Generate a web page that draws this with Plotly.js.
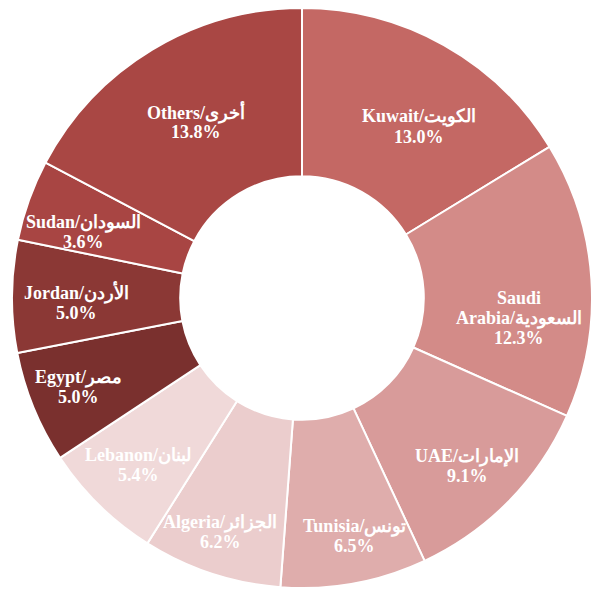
<!DOCTYPE html>
<html><head><meta charset="utf-8">
<script src="https://cdn.plot.ly/plotly-3.0.1.min.js"></script>
<style>html,body{margin:0;padding:0;background:#fff}</style>
</head><body><div id="chart" style="width:600px;height:592px"></div>
<script>
const labels = ["Kuwait/الكويت", "Saudi<br>Arabia/السعودية", "UAE/الإمارات", "Tunisia/تونس", "Algeria/الجزائر", "Lebanon/لبنان", "Egypt/مصر", "Jordan/الأردن", "Sudan/السودان", "Others/أخرى"];
const values = [13.0, 12.3, 9.1, 6.5, 6.2, 5.4, 5.0, 5.0, 3.6, 13.8];
const colors = ["#c46864", "#d38b88", "#d89b9a", "#dfadac", "#ebcdcd", "#f0d9d9", "#7a302e", "#8b3835", "#a84543", "#a94744"];

// label placement style (angle nudge in degrees, radius in px from centre)
const labelNudge = [5, 9, 1, -2, 1, 0, 0.5, -1.6, -3, 0];
const labelRadius = [207, 218, 236, 244, 248, 234, 241, 226, 228, 205];
const lineGap = 20;

const W = 600, H = 592, M = {l: 10, r: 6, t: 8, b: 4};
const pw = W - M.l - M.r, ph = H - M.t - M.b;
const cx = M.l + pw / 2, cy = M.t + ph / 2;
const total = values.reduce((a, b) => a + b, 0);
let cum = 0;
const annotations = [];
values.forEach((v, i) => {
  const mid = (cum + v / 2) / total * 360; cum += v;
  const a = (mid + labelNudge[i]) * Math.PI / 180;
  const px = cx + labelRadius[i] * Math.sin(a);
  const py = cy - labelRadius[i] * Math.cos(a);
  const lines = labels[i].split("<br>").concat([v.toFixed(1) + "%"]);
  lines.forEach((ln, k) => {
    annotations.push({
      xref: "paper", yref: "paper",
      x: (px - M.l) / pw, y: (H - M.b - py) / ph,
      xanchor: "center", yanchor: "middle", showarrow: false,
      yshift: ((lines.length - 1) / 2 - k) * lineGap,
      text: "<b>" + ln + "</b>",
      font: {family: "Liberation Serif, serif", size: 18, color: "#ffffff"}
    });
  });
});

Plotly.newPlot("chart", [{
  type: "pie",
  labels: labels,
  values: values,
  textinfo: "none",
  hoverinfo: "none",
  sort: false,
  direction: "clockwise",
  rotation: 0,
  hole: 0.42,
  marker: {colors: colors, line: {color: "#ffffff", width: 2}}
}], {
  width: W, height: H,
  margin: M,
  showlegend: false,
  paper_bgcolor: "#ffffff",
  annotations: annotations
}, {displayModeBar: false});
</script></body></html>
